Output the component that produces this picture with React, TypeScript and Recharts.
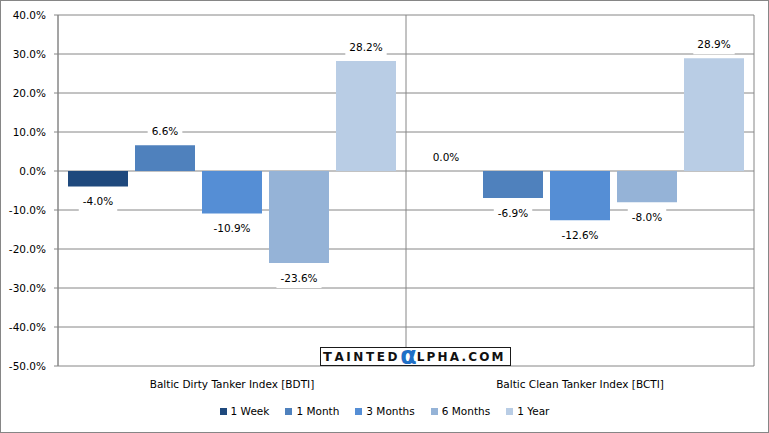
import React from 'react';
import { BarChart, Bar, XAxis, YAxis, CartesianGrid, Legend, Rectangle } from 'recharts';

const categories = ['Baltic Dirty Tanker Index [BDTI]', 'Baltic Clean Tanker Index [BCTI]'];
const seriesNames = ['1 Week', '1 Month', '3 Months', '6 Months', '1 Year'];
const seriesKeys = ['w1', 'm1', 'm3', 'm6', 'y1'];
const seriesColors = ['#1F497D', '#4F81BD', '#558ED5', '#95B3D7', '#B9CDE5'];
const week1 = [-4.0, 0.0];
const month1 = [6.6, -6.9];
const months3 = [-10.9, -12.6];
const months6 = [-23.6, -8.0];
const year1 = [28.2, 28.9];
const yTicks = [-50, -40, -30, -20, -10, 0, 10, 20, 30, 40];

const seriesValues = [week1, month1, months3, months6, year1];
const data = categories.map((name, i) => {
  const row: Record<string, any> = { name };
  seriesKeys.forEach((k, s) => { row[k] = seriesValues[s][i]; });
  return row;
});

const FONT = '"DejaVu Sans", Verdana, sans-serif';
const FS = 10.5;
const GRID = '#868686';

const fmt = (v: number) => v.toFixed(1) + '%';
const charW: Record<string, number> = { '.': 0.318, '%': 0.95, '-': 0.361 };
const textWidth = (s: string) => s.split('').reduce((a, c) => a + (charW[c] ?? 0.636), 0) * FS;

const makeShape = (key: string) => (props: any) => {
  const x = Number(props.x) || 0;
  const y = Number(props.y) || 0;
  const w = Number(props.width) || 0;
  const h = Number(props.height) || 0;
  const value = Number(props.payload ? props.payload[key] : props.value);
  const top = Math.min(y, y + h);
  const bottom = Math.max(y, y + h);
  const cx = x + w / 2;
  const cy = value < 0 ? bottom + 15 : top - 14;
  const text = fmt(value);
  const bw = textWidth(text) + 8;
  return (
    <g>
      {h !== 0 && <Rectangle x={x} y={top} width={w} height={bottom - top} fill={props.fill} />}
      <rect x={cx - bw / 2} y={cy - 10} width={bw} height={20} fill="#ffffff" />
      <text x={cx} y={cy} dy="0.36em" textAnchor="middle" fontFamily={FONT} fontSize={FS} fill="#000">
        {text}
      </text>
    </g>
  );
};

const LegendContent = (props: any) => {
  const payload = [...(props.payload || [])].sort(
    (a: any, b: any) => seriesNames.indexOf(a.value) - seriesNames.indexOf(b.value)
  );
  return (
    <div style={{ display: 'flex', justifyContent: 'center', alignItems: 'center', height: 30, fontFamily: FONT, fontSize: FS, color: '#000' }}>
      {payload.map((p: any, i: number) => (
        <div key={i} style={{ display: 'flex', alignItems: 'center', marginRight: i < payload.length - 1 ? 16 : 0 }}>
          <div style={{ width: 7, height: 7, background: p.color, marginRight: 4 }} />
          <span>{p.value}</span>
        </div>
      ))}
    </div>
  );
};

export default function App() {
  return (
    <div style={{ position: 'absolute', left: 0, top: 0, width: 769, height: 433, background: '#fff' }}>
      <BarChart
        width={769}
        height={433}
        data={data}
        margin={{ top: 15, right: 15, left: 0, bottom: 7 }}
        barCategoryGap={10}
        barGap={7}
      >
        <CartesianGrid
          stroke={GRID}
          vertical={true}
          horizontal={true}
          verticalCoordinatesGenerator={(p: any) => {
            const o = p.offset;
            return [o.left, o.left + o.width / 2, o.left + o.width];
          }}
        />
        <XAxis
          dataKey="name"
          axisLine={false}
          tickLine={false}
          tickSize={0}
          tickMargin={15}
          height={30}
          interval={0}
          tick={{ fontFamily: FONT, fontSize: FS, fill: '#000' }}
        />
        <YAxis
          width={58}
          domain={[-50, 40]}
          ticks={yTicks}
          interval={0}
          tickFormatter={(v: number) => fmt(v)}
          axisLine={{ stroke: GRID }}
          tickLine={{ stroke: GRID }}
          tickSize={4}
          tickMargin={8}
          tick={{ fontFamily: FONT, fontSize: FS, fill: '#000' }}
        />
        <Legend
          verticalAlign="bottom"
          content={LegendContent}
          wrapperStyle={{ left: 0, width: 769 }}
        />
        {seriesKeys.map((k, s) => (
          <Bar key={k} dataKey={k} name={seriesNames[s]} fill={seriesColors[s]} isAnimationActive={false} shape={makeShape(k)} />
        ))}
      </BarChart>
      <div
        style={{
          position: 'absolute', left: 320, top: 347, width: 191, height: 19, boxSizing: 'border-box',
          border: '1px solid #1a1a1a', background: '#fff', display: 'flex', alignItems: 'center',
          paddingLeft: 2, fontFamily: FONT, fontWeight: 'bold', fontSize: 12, color: '#111', lineHeight: 1,
          whiteSpace: 'nowrap',
        }}
      >
        <span style={{ fontSize: 13, letterSpacing: 2.5 }}>T</span>
        <span style={{ letterSpacing: 2.6 }}>AINTED</span>
        <span style={{ color: '#1F6FC6', fontSize: 24, lineHeight: '17px', height: 17, display: 'inline-block' }}>α</span>
        <span style={{ letterSpacing: 2.2 }}>LPHA.COM</span>
      </div>
      <div style={{ position: 'absolute', left: 0, top: 0, width: 769, height: 433, boxSizing: 'border-box', border: '1px solid #868686', pointerEvents: 'none' }} />
    </div>
  );
}
